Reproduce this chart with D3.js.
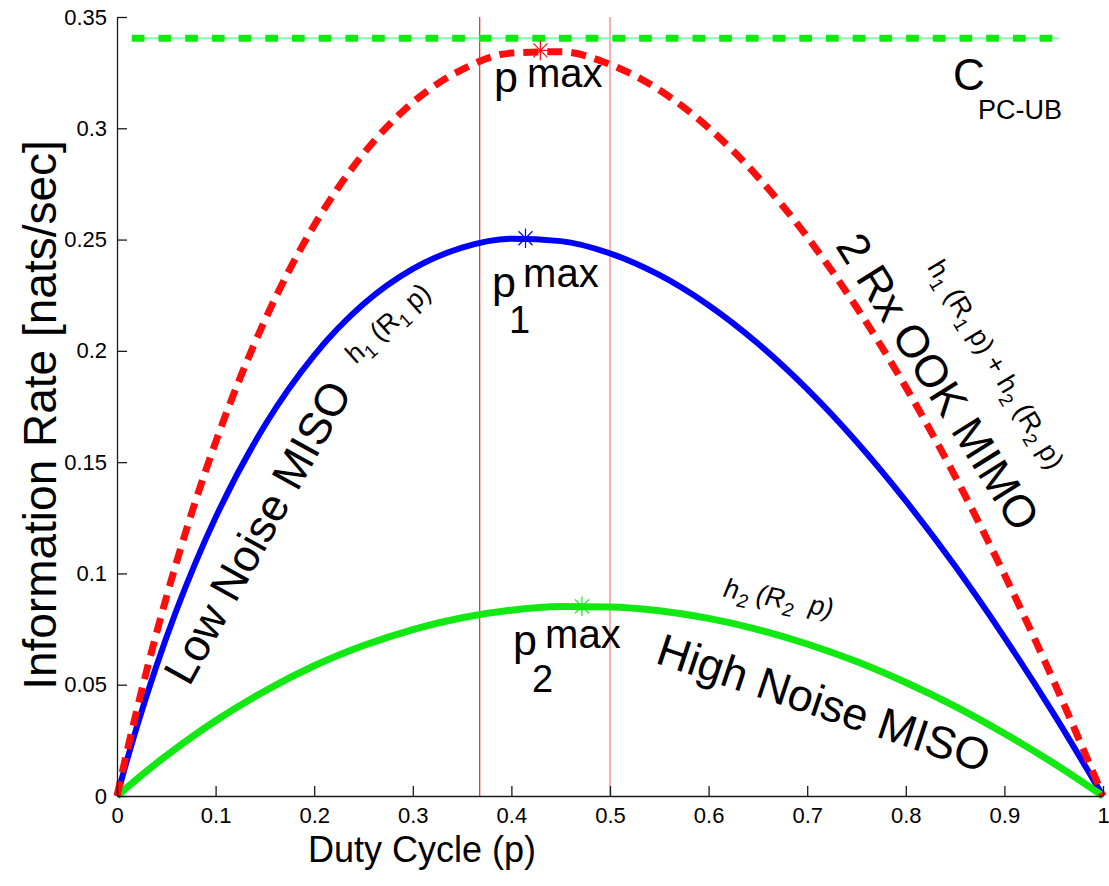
<!DOCTYPE html>
<html>
<head>
<meta charset="utf-8">
<script src="https://cdn.jsdelivr.net/npm/d3@7"></script>
<style>
  html, body { margin: 0; padding: 0; background: #fff; }
  svg { display: block; font-family: "Liberation Sans", Arial, Helvetica, sans-serif; }
</style>
</head>
<body>
<svg id="chart" width="1109" height="886"></svg>
<script>
const dutyCycle = [0, 0.01, 0.02, 0.04, 0.06, 0.08, 0.1, 0.15, 0.2, 0.25, 0.3, 0.35, 0.4, 0.45, 0.5,
                   0.55, 0.6, 0.65, 0.7, 0.75, 0.8, 0.85, 0.9, 0.95, 1];
const lowNoiseMiso = [0, 0.0159, 0.0309, 0.0584, 0.0831, 0.1052, 0.1251, 0.1666, 0.1980, 0.2210, 0.2368,
                      0.2464, 0.2504, 0.2493, 0.2438, 0.2341, 0.2205, 0.2033, 0.1828, 0.1592, 0.1326,
                      0.1033, 0.0713, 0.0369, 0];
const highNoiseMiso = [0, 0.0038, 0.0075, 0.0147, 0.0214, 0.0278, 0.0338, 0.0472, 0.0585, 0.0676, 0.0748,
                       0.0801, 0.0835, 0.0851, 0.0849, 0.0832, 0.0798, 0.0748, 0.0683, 0.0604, 0.0510,
                       0.0403, 0.0281, 0.0147, 0];
const ookMimo = [0, 0.0197, 0.0384, 0.0731, 0.1045, 0.1330, 0.1589, 0.2138, 0.2564, 0.2886, 0.3116,
                 0.3264, 0.3338, 0.3344, 0.3287, 0.3172, 0.3002, 0.2781, 0.2512, 0.2196, 0.1837,
                 0.1436, 0.0995, 0.0516, 0];
const peakDuty = [0.4294, 0.4143, 0.4715];
const peakRate = [0.3350, 0.2506, 0.0852];
const dutyBounds = [0.3679, 0.5];
const upperBound = 0.3405;
const upperBoundSpan = [0.015, 0.955];
const xTicks = [0, 0.1, 0.2, 0.3, 0.4, 0.5, 0.6, 0.7, 0.8, 0.9, 1];
const xTickLabels = ["0", "0.1", "0.2", "0.3", "0.4", "0.5", "0.6", "0.7", "0.8", "0.9", "1"];
const yTicks = [0, 0.05, 0.1, 0.15, 0.2, 0.25, 0.3, 0.35];
const yTickLabels = ["0", "0.05", "0.1", "0.15", "0.2", "0.25", "0.3", "0.35"];

const svg = d3.select("#chart");
const x = d3.scaleLinear().domain([0, 1]).range([117, 1103]);
const y = d3.scaleLinear().domain([0, 0.35]).range([796, 17]);

const red = "#ff0d0d", blue = "#0000ff", green = "#12e812";

// optimal duty cycle lies between 1/e and 1/2
svg.append("g").selectAll("line")
    .data(dutyBounds)
    .join("line")
    .attr("x1", d => x(d)).attr("x2", d => x(d))
    .attr("y1", y(0)).attr("y2", y(0.35))
    .attr("stroke", (d, i) => i ? "#ff5a5a" : "#e00000")
    .attr("stroke-width", 1);

// upper bound: thin line with thick dashes on top
const bound = svg.append("g");
bound.append("line")
    .attr("x1", x(upperBoundSpan[0])).attr("x2", x(upperBoundSpan[1]))
    .attr("y1", y(upperBound)).attr("y2", y(upperBound))
    .attr("stroke", "#86ffa6").attr("stroke-width", 2);
bound.append("line")
    .attr("x1", x(upperBoundSpan[0])).attr("x2", x(upperBoundSpan[1]))
    .attr("y1", y(upperBound)).attr("y2", y(upperBound))
    .attr("stroke", green).attr("stroke-width", 7)
    .attr("stroke-dasharray", "12.7,14");

const line = values => d3.line()
    .x((d, i) => x(dutyCycle[i]))
    .y(d => y(d))
    .curve(d3.curveMonotoneX)(values);

svg.append("path").attr("d", line(lowNoiseMiso))
    .attr("fill", "none").attr("stroke", blue).attr("stroke-width", 6);
svg.append("path").attr("d", line(highNoiseMiso))
    .attr("fill", "none").attr("stroke", green).attr("stroke-width", 7);
svg.append("path").attr("d", line(ookMimo))
    .attr("fill", "none").attr("stroke", red).attr("stroke-width", 7)
    .attr("stroke-dasharray", "15,9");

// matlab style '*' marker
const asterisk = {
    draw(ctx, size) {
        const r = Math.sqrt(size) / 2, q = r * 0.72;
        ctx.moveTo(-r, 0); ctx.lineTo(r, 0);
        ctx.moveTo(0, -r); ctx.lineTo(0, r);
        ctx.moveTo(-q, -q); ctx.lineTo(q, q);
        ctx.moveTo(-q, q); ctx.lineTo(q, -q);
    }
};
const peakColors = [red, blue, green];
svg.append("g").selectAll("path")
    .data(peakDuty)
    .join("path")
    .attr("transform", (d, i) => `translate(${x(d)},${y(peakRate[i])})`)
    .attr("d", d3.symbol(asterisk, 380))
    .attr("fill", "none")
    .attr("stroke", (d, i) => peakColors[i])
    .attr("stroke-width", 1.2);

// axes, ticks pointing inward
const xAxis = svg.append("g")
    .attr("transform", `translate(0,${y(0)})`)
    .call(d3.axisBottom(x).tickValues(xTicks).tickFormat((d, i) => xTickLabels[i])
        .tickSizeInner(-10).tickSizeOuter(0).tickPadding(11));
const yAxis = svg.append("g")
    .attr("transform", `translate(${x(0)},0)`)
    .call(d3.axisLeft(y).tickValues(yTicks).tickFormat((d, i) => yTickLabels[i])
        .tickSizeInner(-10).tickSizeOuter(0).tickPadding(10));
[xAxis, yAxis].forEach(a => {
    a.selectAll("text").attr("fill", "#000").style("font-size", "22px")
        .style("font-family", "\"Liberation Sans\", Arial, sans-serif");
    a.selectAll("line, path").attr("stroke", "#1a1a1a").attr("stroke-width", 1.3);
});

svg.append("text")
    .attr("x", 422).attr("y", 862)
    .attr("text-anchor", "middle")
    .style("font-size", "36px")
    .text("Duty Cycle (p)");
svg.append("text")
    .attr("transform", "translate(56,415) rotate(-90)")
    .attr("text-anchor", "middle")
    .style("font-size", "46px")
    .text("Information Rate [nats/sec]");

// annotations: anchor in data units, parts offset in pixels
const annotations = [
    { p: 0.3824, v: 0.3163, size: 40, parts: [
        { t: "p", x: 0, y: 0, size: 43 }, { t: "max", x: 33, y: -5 }] },
    { p: 0.3804, v: 0.2242, size: 40, parts: [
        { t: "p", x: 0, y: 0, size: 43 }, { t: "max", x: 31, y: -10 }, { t: "1", x: 17, y: 36, size: 38 }] },
    { p: 0.4017, v: 0.0634, size: 40, parts: [
        { t: "p", x: 0, y: 0, size: 43 }, { t: "max", x: 32, y: -7 }, { t: "2", x: 19, y: 37, size: 38 }] },
    { p: 0.8479, v: 0.3172, size: 44, parts: [
        { t: "C", x: 0, y: 0 }, { t: "PC-UB", x: 25, y: 29, size: 27 }] },
    { p: 0.1563, v: 0.1151, size: 45, angle: -61, anchor: "middle", parts: [{ t: "Low Noise MISO" }] },
    { p: 0.8194, v: 0.1824, size: 45, angle: 58, anchor: "middle", parts: [{ t: "2 Rx OOK MIMO" }] },
    { p: 0.7119, v: 0.0352, size: 45, angle: 18.5, anchor: "middle", parts: [{ t: "High Noise MISO" }] },
    { p: 0.2809, v: 0.2094, size: 27, angle: -42, anchor: "middle", parts: [
        { t: "h" }, { t: "1", dy: 7, size: 19 }, { t: " (R", dy: -7 }, { t: "1", dy: 7, size: 19 },
        { t: " p)", dy: -7 }] },
    { p: 0.8834, v: 0.1918, size: 27, angle: 59, anchor: "middle", parts: [
        { t: "h" }, { t: "1", dy: 7, size: 19 }, { t: " (R", dy: -7 }, { t: "1", dy: 7, size: 19 },
        { t: " p) + h", dy: -7 }, { t: "2", dy: 7, size: 19 }, { t: " (R", dy: -7 },
        { t: "2", dy: 7, size: 19 }, { t: " p)", dy: -7 }] },
    { p: 0.6694, v: 0.0849, size: 27, angle: 11, anchor: "middle", italic: true, parts: [
        { t: "h" }, { t: "2", dy: 7, size: 19 }, { t: " (R", dy: -7 }, { t: "2", dy: 7, size: 19 },
        { t: "  p)", dy: -7 }] }
];

annotations.forEach(a => {
    const text = svg.append("text")
        .attr("transform", `translate(${x(a.p)},${y(a.v)}) rotate(${a.angle || 0})`)
        .attr("text-anchor", a.anchor || "start")
        .style("font-size", a.size + "px")
        .style("font-style", a.italic ? "italic" : "normal")
        .style("white-space", "pre");
    a.parts.forEach(part => {
        const span = text.append("tspan").text(part.t);
        if (part.x !== undefined) span.attr("x", part.x).attr("y", part.y);
        if (part.dy) span.attr("dy", part.dy);
        if (part.size) span.style("font-size", part.size + "px");
    });
});
</script>
</body>
</html>
